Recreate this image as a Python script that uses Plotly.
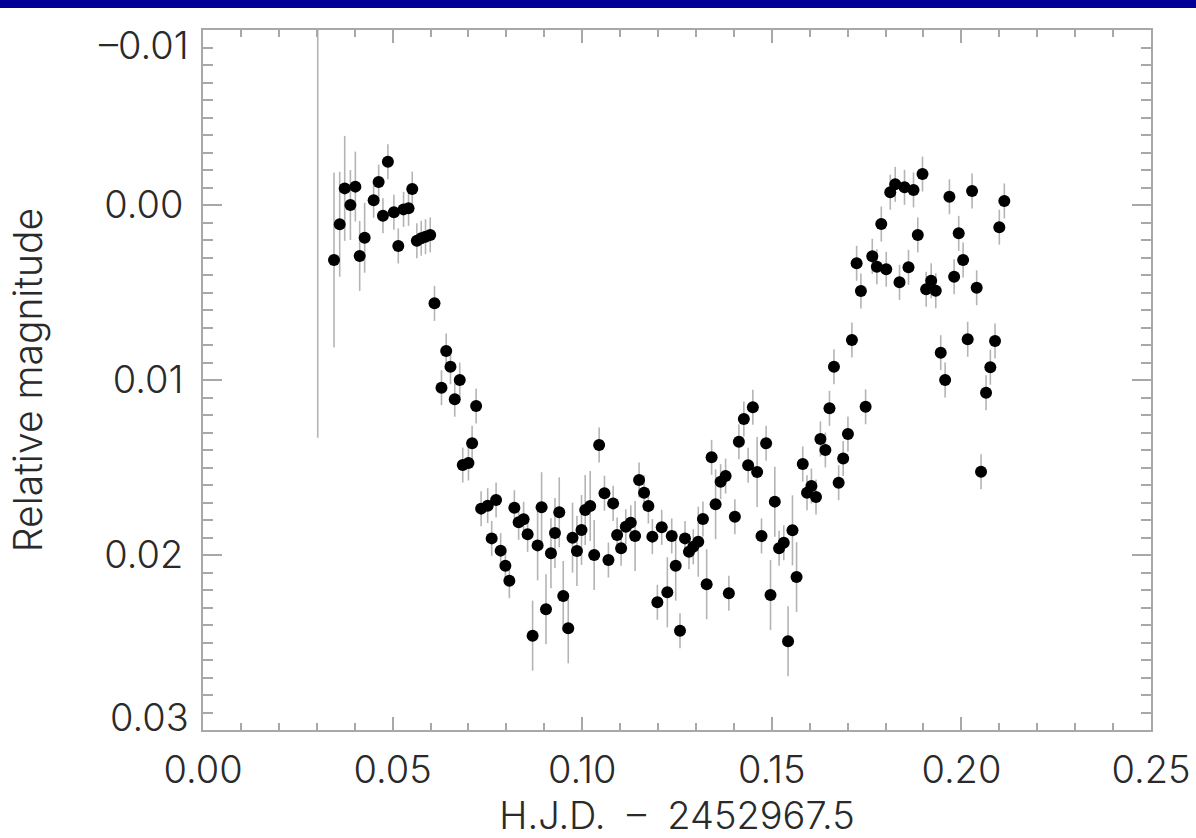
import plotly.graph_objects as go

# Differential photometry: time (H.J.D. - 2452967.5) and relative magnitude
hjd = [
    0.03026, 0.03455, 0.03605, 0.03737, 0.03887, 0.04018, 0.04132, 0.04263,
    0.04500, 0.04632, 0.04745, 0.04876, 0.05034, 0.05150, 0.05289, 0.05421,
    0.05518, 0.05639, 0.05755, 0.05868, 0.05992, 0.06105, 0.06289, 0.06413,
    0.06526, 0.06639, 0.06771, 0.06850, 0.07000, 0.07097, 0.07203, 0.07334,
    0.07508, 0.07613, 0.07729, 0.07850, 0.07974, 0.08079, 0.08211, 0.08324,
    0.08455, 0.08561, 0.08692, 0.08824, 0.08929, 0.09045, 0.09176, 0.09282,
    0.09395, 0.09500, 0.09632, 0.09745, 0.09861, 0.09982, 0.10079, 0.10211,
    0.10316, 0.10447, 0.10587, 0.10692, 0.10816, 0.10921, 0.11026, 0.11150,
    0.11282, 0.11395, 0.11500, 0.11632, 0.11745, 0.11850, 0.11982, 0.12097,
    0.12245, 0.12361, 0.12466, 0.12579, 0.12711, 0.12816, 0.12929, 0.13061,
    0.13184, 0.13282, 0.13413, 0.13518, 0.13650, 0.13782, 0.13868, 0.14026,
    0.14132, 0.14263, 0.14376, 0.14500, 0.14613, 0.14729, 0.14850, 0.14966,
    0.15079, 0.15192, 0.15316, 0.15429, 0.15545, 0.15653, 0.15816, 0.15929,
    0.16045, 0.16166, 0.16282, 0.16413, 0.16521, 0.16639, 0.16763, 0.16882,
    0.17008, 0.17113, 0.17237, 0.17350, 0.17474, 0.17650, 0.17771, 0.17887,
    0.18018, 0.18124, 0.18255, 0.18368, 0.18500, 0.18605, 0.18737, 0.18850,
    0.18974, 0.19071, 0.19203, 0.19324, 0.19455, 0.19571, 0.19684, 0.19808,
    0.19929, 0.20045, 0.20166, 0.20282, 0.20403, 0.20518, 0.20650, 0.20763,
    0.20887, 0.21000, 0.21132,
]

rel_mag = [
    -0.02000, 0.00314, 0.00110, -0.00095, 0.00000, -0.00105, 0.00291, 0.00187,
    -0.00027, -0.00131, 0.00061, -0.00247, 0.00042, 0.00234, 0.00025, 0.00019,
    -0.00091, 0.00204, 0.00190, 0.00181, 0.00171, 0.00562, 0.01044, 0.00834,
    0.00924, 0.01110, 0.01000, 0.01486, 0.01474, 0.01362, 0.01149, 0.01735,
    0.01718, 0.01905, 0.01686, 0.01975, 0.02061, 0.02147, 0.01730, 0.01813,
    0.01796, 0.01882, 0.02461, 0.01945, 0.01727, 0.02310, 0.01990, 0.01874,
    0.01756, 0.02234, 0.02419, 0.01901, 0.01977, 0.01857, 0.01743, 0.01720,
    0.02000, 0.01371, 0.01647, 0.02029, 0.01705, 0.01886, 0.01962, 0.01838,
    0.01815, 0.01891, 0.01571, 0.01644, 0.01720, 0.01895, 0.02270, 0.01842,
    0.02213, 0.01891, 0.02061, 0.02433, 0.01905, 0.01981, 0.01953, 0.01924,
    0.01794, 0.02167, 0.01442, 0.01710, 0.01581, 0.01549, 0.02219, 0.01781,
    0.01353, 0.01223, 0.01487, 0.01156, 0.01526, 0.01891, 0.01362, 0.02229,
    0.01695, 0.01962, 0.01930, 0.02493, 0.01859, 0.02126, 0.01480, 0.01644,
    0.01606, 0.01669, 0.01337, 0.01400, 0.01162, 0.00924, 0.01587, 0.01449,
    0.01309, 0.00771, 0.00333, 0.00491, 0.01153, 0.00293, 0.00353, 0.00109,
    0.00367, -0.00073, -0.00118, 0.00442, -0.00101, 0.00356, -0.00086, 0.00171,
    -0.00177, 0.00482, 0.00433, 0.00490, 0.00844, 0.01000, -0.00047, 0.00410,
    0.00162, 0.00314, 0.00767, -0.00080, 0.00473, 0.01524, 0.01073, 0.00927,
    0.00777, 0.00127, -0.00023,
]

mag_err = [
    0.0333, 0.0050, 0.0030, 0.0030, 0.0020, 0.0020, 0.0020, 0.0020,
    0.0010, 0.0010, 0.0010, 0.0010, 0.0010, 0.0010, 0.0010, 0.0010,
    0.0010, 0.0010, 0.0010, 0.0010, 0.0010, 0.0010, 0.0010, 0.0010,
    0.0010, 0.0010, 0.0010, 0.0010, 0.0010, 0.0010, 0.0010, 0.0010,
    0.0010, 0.0010, 0.0010, 0.0010, 0.0010, 0.0010, 0.0010, 0.0010,
    0.0010, 0.0010, 0.0020, 0.0020, 0.0020, 0.0020, 0.0020, 0.0020,
    0.0020, 0.0020, 0.0020, 0.0020, 0.0020, 0.0020, 0.0020, 0.0020,
    0.0020, 0.0010, 0.0010, 0.0010, 0.0010, 0.0010, 0.0010, 0.0010,
    0.0010, 0.0020, 0.0010, 0.0010, 0.0010, 0.0010, 0.0010, 0.0010,
    0.0020, 0.0010, 0.0020, 0.0010, 0.0010, 0.0010, 0.0010, 0.0020,
    0.0010, 0.0020, 0.0010, 0.0020, 0.0010, 0.0010, 0.0010, 0.0010,
    0.0010, 0.0010, 0.0010, 0.0010, 0.0020, 0.0010, 0.0010, 0.0020,
    0.0020, 0.0010, 0.0010, 0.0020, 0.0020, 0.0020, 0.0010, 0.0010,
    0.0010, 0.0010, 0.0010, 0.0010, 0.0010, 0.0010, 0.0010, 0.0010,
    0.0010, 0.0010, 0.0010, 0.0010, 0.0010, 0.0010, 0.0010, 0.0010,
    0.0010, 0.0010, 0.0010, 0.0010, 0.0010, 0.0010, 0.0010, 0.0010,
    0.0010, 0.0010, 0.0010, 0.0010, 0.0010, 0.0010, 0.0010, 0.0010,
    0.0010, 0.0010, 0.0010, 0.0010, 0.0010, 0.0010, 0.0010, 0.0010,
    0.0010, 0.0010, 0.0010,
]

x_ticks = [0.00, 0.05, 0.10, 0.15, 0.20, 0.25]
y_ticks = [-0.01, 0.00, 0.01, 0.02, 0.03]
y_tick_text = ["", "0.00", "0.01", "0.02", ""]
y_end_labels = [(-0.01, "\u20130.01", -15), (0.03, "0.03", 13)]
x_title = "H.J.D.\u00a0\u00a0\u2013\u00a0\u00a02452967.5"
y_title = "Relative magnitude"

FONT = "Inter, DejaVu Sans, sans-serif"
FONT_W = 300
FONT_SIZE = 38
TEXT = "#2a2a2a"
FRAME = "#a8a8a8"

W, H = 1196, 838
ML, MR, MT, MB = 203, 45, 30, 108
pw, ph = W - ML - MR, H - MT - MB


def txt_font(size=FONT_SIZE):
    return dict(family=FONT, size=size, color=TEXT, weight=FONT_W)


fig = go.Figure(
    go.Scatter(
        x=hjd,
        y=rel_mag,
        mode="markers",
        marker=dict(size=12, color="black", line=dict(width=0)),
        error_y=dict(type="data", array=mag_err, color="#b4b4b4",
                     thickness=1.6, width=0),
        showlegend=False,
        hoverinfo="x+y",
    )
)

axis_common = dict(
    showgrid=False,
    zeroline=False,
    showline=True,
    linecolor=FRAME,
    linewidth=2,
    mirror="allticks",
    ticks="inside",
    tickcolor=FRAME,
    tickwidth=1.5,
    tickfont=txt_font(),
)

fig.update_xaxes(
    **axis_common,
    range=[0.0, 0.25],
    tickvals=x_ticks,
    tickformat=".2f",
    ticklen=13,
    ticklabelstandoff=5,
    minor=dict(dtick=0.01, ticks="inside", ticklen=7, tickcolor=FRAME,
               tickwidth=1.5),
    title=dict(text=x_title, font=txt_font(), standoff=12),
)

fig.update_yaxes(
    **axis_common,
    range=[0.03, -0.01],
    tickvals=y_ticks,
    ticktext=y_tick_text,
    ticklen=19,
    ticklabelstandoff=10,
    minor=dict(dtick=0.001, ticks="inside", ticklen=10, tickcolor=FRAME,
               tickwidth=1.5),
    title=dict(text=y_title, font=txt_font(39), standoff=50),
)

for val, txt, shift in y_end_labels:
    fig.add_annotation(
        x=0, xref="paper", y=val, yref="y", text=txt, showarrow=False,
        xanchor="right", yanchor="middle", xshift=-12, yshift=shift,
        font=txt_font(),
    )

# dark blue band along the top edge of the page
fig.add_shape(
    type="rect", xref="paper", yref="paper",
    x0=-ML / pw, x1=1 + MR / pw,
    y0=1 + (MT - 8) / ph, y1=1 + MT / ph,
    fillcolor="#000096", line=dict(width=0), layer="above",
)

fig.update_layout(
    width=W,
    height=H,
    margin=dict(l=ML, r=MR, t=MT, b=MB, autoexpand=False),
    paper_bgcolor="white",
    plot_bgcolor="white",
)

fig.write_html("out.html")
